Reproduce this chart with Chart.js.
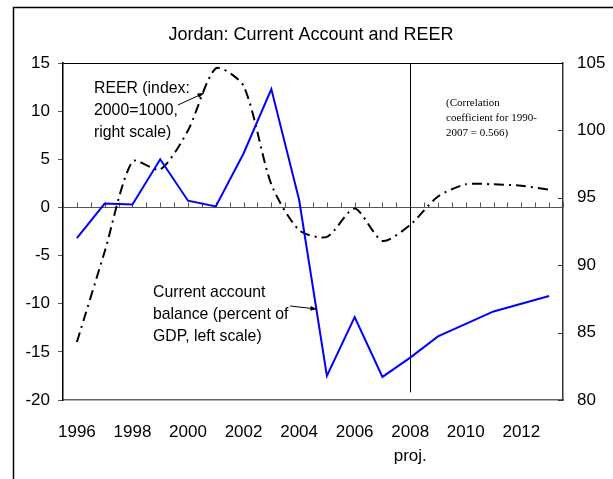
<!DOCTYPE html>
<html>
<head>
  <meta charset="UTF-8">
  <title>Jordan: Current Account and REER</title>
  <script src="https://cdn.jsdelivr.net/npm/chart.js"></script>
  <style>
    html, body { margin: 0; padding: 0; background: #fff; }
    #wrap { width: 613px; height: 479px; }
  </style>
</head>
<body>
  <div id="wrap"><canvas id="chart" width="613" height="479"></canvas></div>
  <script>
    // data
    const years = [1996, 1997, 1998, 1999, 2000, 2001, 2002, 2003, 2004, 2005, 2006, 2007, 2008, 2009, 2010, 2011, 2012, 2013];
    const currentAccount = [-3.2, 0.4, 0.3, 5.0, 0.7, 0.1, 5.6, 12.3, 0.8, -17.5, -11.4, -17.6, -15.6, -13.4, -12.1, -10.8, -10.0, -9.2];
    const reer = [84.3, 91.0, 97.7, 97.1, 100.0, 104.6, 103.3, 96.0, 92.6, 92.1, 94.2, 91.8, 93.0, 95.1, 96.0, 96.0, 95.9, 95.6];
    const xTickYears = [1996, 1998, 2000, 2002, 2004, 2006, 2008, 2010, 2012];
    const projYear = 2008;

    const SANS = '"Liberation Sans", Arial, sans-serif';
    const SERIF = '"Liberation Serif", "Times New Roman", serif';

    function arrow(ctx, x1, y1, x2, y2) {
      const a = Math.atan2(y2 - y1, x2 - x1);
      ctx.beginPath();
      ctx.moveTo(x1, y1);
      ctx.lineTo(x2, y2);
      ctx.stroke();
      ctx.beginPath();
      ctx.moveTo(x2, y2);
      ctx.lineTo(x2 - 7 * Math.cos(a - 0.35), y2 - 7 * Math.sin(a - 0.35));
      ctx.lineTo(x2 - 7 * Math.cos(a + 0.35), y2 - 7 * Math.sin(a + 0.35));
      ctx.closePath();
      ctx.fill();
    }

    // slightly condensed text, like the narrow Arial of the original
    function narrowText(ctx, lines, x, y, step) {
      ctx.save();
      ctx.translate(x, y);
      ctx.scale(0.93, 1);
      lines.forEach((t, i) => ctx.fillText(t, 0, i * step));
      ctx.restore();
    }

    const decor = {
      id: 'decor',
      beforeDatasetsDraw(chart) {
        const { ctx, chartArea: ca, scales } = chart;
        const x = scales.x, y = scales.y, y2 = scales.y2;
        ctx.save();
        // zero line with half-year tick marks
        const y0 = Math.round(y.getPixelForValue(0)) + 0.5;
        ctx.strokeStyle = '#555';
        ctx.lineWidth = 1;
        ctx.beginPath();
        ctx.moveTo(ca.left, y0);
        ctx.lineTo(ca.right, y0);
        for (let v = x.min; v <= x.max + 0.01; v += 0.5) {
          const px = Math.round(x.getPixelForValue(v)) + 0.5;
          ctx.moveTo(px, y0);
          ctx.lineTo(px, y0 - 5);
        }
        ctx.stroke();
        // inward ticks on right axis
        ctx.strokeStyle = '#333';
        ctx.beginPath();
        for (let v = y2.min; v <= y2.max; v += 5) {
          const py = Math.round(y2.getPixelForValue(v)) + 0.5;
          ctx.moveTo(ca.right, py);
          ctx.lineTo(ca.right - 5, py);
        }
        ctx.stroke();
        // top border of plot area
        ctx.strokeStyle = '#000';
        ctx.beginPath();
        ctx.moveTo(ca.left, ca.top + 0.5);
        ctx.lineTo(ca.right, ca.top + 0.5);
        ctx.stroke();
        // projection divider
        const px = Math.round(x.getPixelForValue(projYear)) + 0.5;
        ctx.beginPath();
        ctx.moveTo(px, ca.top);
        ctx.lineTo(px, y.getPixelForValue(-19.2));
        ctx.stroke();
        ctx.restore();
      },
      afterDraw(chart) {
        const { ctx } = chart;
        ctx.save();
        // outer frame
        ctx.strokeStyle = '#000';
        ctx.lineWidth = 1.5;
        ctx.strokeRect(13.5, 7.5, 700, 600);
        ctx.fillStyle = '#000';
        ctx.textBaseline = 'middle';
        ctx.textAlign = 'center';
        ctx.font = '18px ' + SANS;
        ctx.fillText('Jordan: Current Account and REER', 311, 35);
        ctx.textAlign = 'left';
        ctx.font = '17px ' + SANS;
        narrowText(ctx, ['REER (index:', '2000=1000,', 'right scale)'], 94, 88, 22);
        narrowText(ctx, ['Current account', 'balance (percent of', 'GDP, left scale)'], 153, 292, 22);
        ctx.font = '11px ' + SERIF;
        ctx.fillText('(Correlation', 446, 103);
        ctx.fillText('coefficient for 1990-', 446, 118);
        ctx.fillText('2007 = 0.566)', 446, 133);
        ctx.lineWidth = 1;
        arrow(ctx, 178, 105, 204, 93);
        arrow(ctx, 290, 306, 317, 309);
        ctx.restore();
      }
    };

    new Chart(document.getElementById('chart'), {
      type: 'line',
      data: {
        datasets: [
          {
            label: 'Current account balance (percent of GDP, left scale)',
            data: years.map((yr, i) => ({ x: yr, y: currentAccount[i] })),
            yAxisID: 'y',
            borderColor: '#0000ff',
            borderWidth: 2,
            pointRadius: 0,
            tension: 0,
            fill: false
          },
          {
            label: 'REER (index: 2000=1000, right scale)',
            data: years.map((yr, i) => ({ x: yr, y: reer[i] })),
            yAxisID: 'y2',
            borderColor: '#000',
            borderWidth: 2,
            borderDash: [10, 5, 2, 5],
            pointRadius: 0,
            tension: 0.25,
            fill: false
          }
        ]
      },
      options: {
        responsive: false,
        animation: false,
        events: [],
        layout: { padding: { top: 63, left: 0, right: 0, bottom: 0 } },
        plugins: { legend: { display: false }, title: { display: false }, tooltip: { enabled: false } },
        scales: {
          x: {
            type: 'linear',
            position: 'bottom',
            min: 1995.5,
            max: 2013.5,
            afterBuildTicks: (s) => { s.ticks = xTickYears.map(v => ({ value: v })); },
            afterFit: (s) => { s.height = 79; },
            grid: { display: false, drawTicks: false },
            border: { display: true, color: '#666', width: 1.5 },
            ticks: {
              padding: 20,
              color: '#000',
              font: { size: 17, family: SANS, lineHeight: 1.42 },
              maxRotation: 0,
              autoSkip: false,
              callback: (v) => v === projYear ? [String(v), 'proj.'] : String(v)
            }
          },
          y: {
            position: 'left',
            min: -20,
            max: 15,
            afterBuildTicks: (s) => { s.ticks = [-20, -15, -10, -5, 0, 5, 10, 15].map(v => ({ value: v })); },
            afterFit: (s) => { s.width = 63; },
            grid: { drawOnChartArea: false, drawTicks: true, tickLength: 5, color: '#555' },
            border: { display: true, color: '#000', width: 1.5 },
            ticks: { padding: 8, color: '#000', font: { size: 17, family: SANS } }
          },
          y2: {
            position: 'right',
            min: 80,
            max: 105,
            afterBuildTicks: (s) => { s.ticks = [80, 85, 90, 95, 100, 105].map(v => ({ value: v })); },
            afterFit: (s) => { s.width = 50; },
            grid: { display: false, drawTicks: false },
            border: { display: true, color: '#333', width: 1.5 },
            ticks: { padding: 14, color: '#000', font: { size: 17, family: SANS } }
          }
        }
      },
      plugins: [decor]
    });
  </script>
</body>
</html>
